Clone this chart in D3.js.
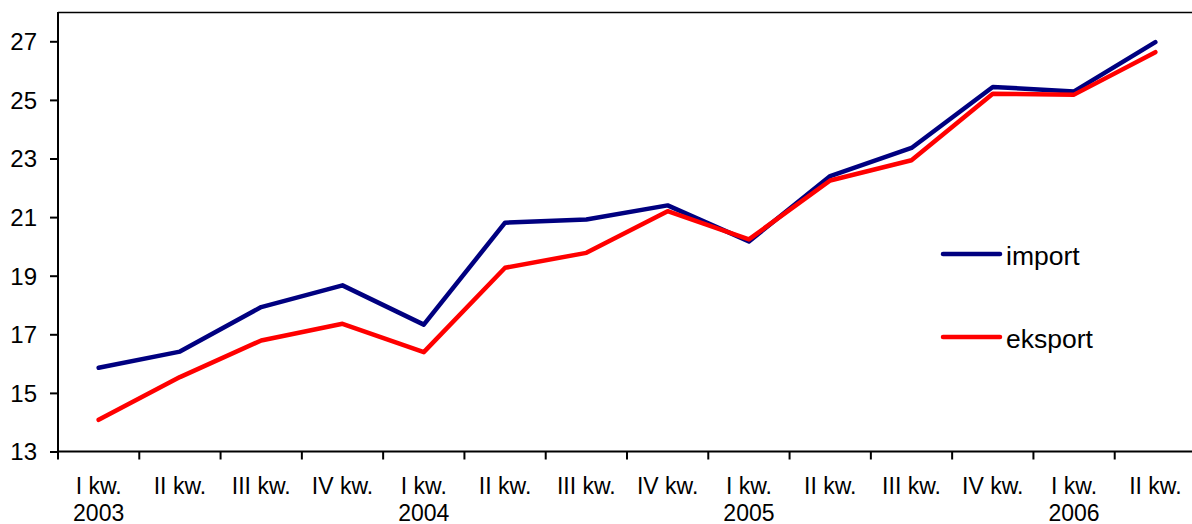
<!DOCTYPE html>
<html>
<head>
<meta charset="utf-8">
<script src="https://cdn.jsdelivr.net/npm/d3@7"></script>
<style>
  html, body { margin: 0; padding: 0; background: #fff; }
  svg { display: block; }
  text { font-family: Arial, "Liberation Sans", sans-serif; fill: #000; }
</style>
</head>
<body>
<svg id="chart" width="1192" height="524"></svg>
<script>
const quarters = ["I kw.", "II kw.", "III kw.", "IV kw.", "I kw.", "II kw.", "III kw.", "IV kw.", "I kw.", "II kw.", "III kw.", "IV kw.", "I kw.", "II kw."];
const years = ["2003", "", "", "", "2004", "", "", "", "2005", "", "", "", "2006", ""];
const importValues = [15.86, 16.41, 17.93, 18.67, 17.33, 20.81, 20.92, 21.40, 20.17, 22.40, 23.36, 25.44, 25.29, 26.97];
const eksportValues = [14.08, 15.54, 16.79, 17.36, 16.39, 19.27, 19.78, 21.20, 20.24, 22.25, 22.94, 25.21, 25.18, 26.63];
const yTicks = [13, 15, 17, 19, 21, 23, 25, 27];
const seriesNames = ["import", "eksport"];
const seriesColors = ["#000080", "#ff0000"];

const svg = d3.select("#chart");
const mLeft = 58, mRight = 1196, mTop = 12, mBottom = 451.5;

const idx = d3.range(quarters.length);
const x = d3.scaleBand().domain(idx).range([mLeft, mRight]).paddingInner(0).paddingOuter(0);
const y = d3.scaleLinear().domain([13, 28]).range([mBottom, mTop]);

// top border
svg.append("line")
  .attr("x1", mLeft).attr("x2", mRight)
  .attr("y1", mTop + 0.5).attr("y2", mTop + 0.5)
  .attr("stroke", "#000").attr("stroke-width", 1.5);

// y axis
const yAxis = svg.append("g")
  .attr("transform", `translate(${mLeft},0)`)
  .call(d3.axisLeft(y).tickValues(yTicks).tickSize(8).tickPadding(13).tickFormat(d3.format("d")));
yAxis.select(".domain").attr("stroke-width", 2).attr("d", `M0,${mTop}V${mBottom}`);
yAxis.selectAll(".tick line").attr("stroke-width", 2);
yAxis.selectAll(".tick text").style("font-size", "24px").attr("dy", "0.35em");

// x axis (ticks at band boundaries)
const xg = svg.append("g").attr("transform", `translate(0,${mBottom})`);
xg.append("line").attr("x1", mLeft).attr("x2", mRight).attr("y1", 0).attr("y2", 0)
  .attr("stroke", "#000").attr("stroke-width", 2);
const boundaries = idx.map(i => x(i)).concat([x(idx[idx.length - 1]) + x.bandwidth()]);
xg.selectAll("line.tk").data(boundaries).join("line").attr("class", "tk")
  .attr("x1", d => d).attr("x2", d => d).attr("y1", 0).attr("y2", 8)
  .attr("stroke", "#000").attr("stroke-width", 2);
const lbl = xg.selectAll("g.lbl").data(idx).join("g").attr("class", "lbl")
  .attr("transform", i => `translate(${x(i) + x.bandwidth() / 2},0)`);
lbl.append("text").attr("text-anchor", "middle").attr("y", 42)
  .style("font-size", "23px").text(i => quarters[i]);
lbl.append("text").attr("text-anchor", "middle").attr("y", 69)
  .style("font-size", "23px").text(i => years[i]);

// lines
const line = d3.line().x((d, i) => x(i) + x.bandwidth() / 2).y(d => y(d));
[importValues, eksportValues].forEach((vals, k) => {
  svg.append("path").datum(vals)
    .attr("d", line)
    .attr("fill", "none")
    .attr("stroke", seriesColors[k])
    .attr("stroke-width", 4.5)
    .attr("stroke-linejoin", "round")
    .attr("stroke-linecap", "round");
});

// legend
const legendY = [254, 337];
seriesNames.forEach((name, k) => {
  svg.append("line").attr("x1", 943).attr("x2", 1000)
    .attr("y1", legendY[k]).attr("y2", legendY[k])
    .attr("stroke", seriesColors[k]).attr("stroke-width", 4.5)
    .attr("stroke-linecap", "round");
  svg.append("text").attr("x", 1006).attr("y", legendY[k] + 11)
    .style("font-size", "26.5px").text(name);
});
</script>
</body>
</html>
